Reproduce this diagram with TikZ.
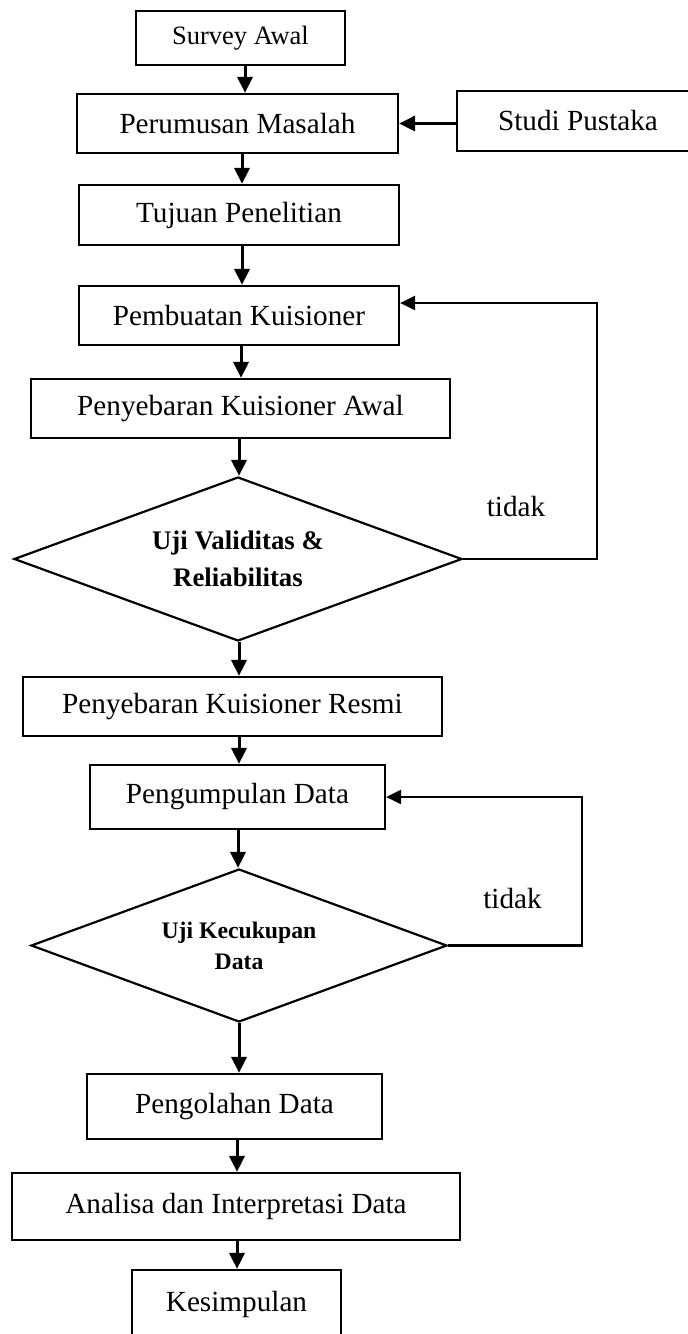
\documentclass[tikz,border=0pt]{standalone}
\usepackage{fontspec}
\setmainfont{Liberation Serif}
\usetikzlibrary{arrows.meta,shapes.geometric}
\begin{document}
\begin{tikzpicture}[x=1pt,y=-1pt,
  box/.style={draw, line width=2.2pt, inner sep=0pt, font=\fontsize{29.2}{35}\selectfont},
  dec/.style={draw, diamond, line width=2.2pt, inner sep=0pt, align=center},
  arr/.style={line width=3pt, -{Triangle[length=16pt,width=15pt]}},
  back/.style={line width=2.3pt, -{Triangle[length=15pt,width=14pt]}},
  lbl/.style={font=\fontsize{29.2}{35}\selectfont, inner sep=0pt}]
\clip (0,0) rectangle (688,1334);
\node[box, minimum width=209pt, minimum height=54pt, font=\fontsize{26.5}{32}\selectfont] (survey) at (240.5,38) {Survey Awal};
\node[box, minimum width=321pt, minimum height=59pt] (perumusan) at (237.5,123.5) {Perumusan Masalah};
\node[box, minimum width=242pt, minimum height=60pt] (studi) at (578,121) {Studi Pustaka};
\node[box, minimum width=320pt, minimum height=60pt] (tujuan) at (239,215) {Tujuan Penelitian};
\node[box, minimum width=320pt, minimum height=59pt] (pembuatan) at (239,315.5) {Pembuatan Kuisioner};
\node[box, minimum width=419pt, minimum height=59pt] (awal) at (240.5,408.5) {Penyebaran Kuisioner Awal};
\node[dec, minimum width=448pt, minimum height=164pt, aspect=2.73, font=\fontsize{26.8}{37}\selectfont\bfseries] (d1) at (238,559) {Uji Validitas \&\\Reliabilitas};
\node[box, minimum width=419pt, minimum height=59pt] (resmi) at (232.5,706.5) {Penyebaran Kuisioner Resmi};
\node[box, minimum width=295pt, minimum height=64pt] (kumpul) at (237.5,797) {Pengumpulan Data};
\node[dec, minimum width=416pt, minimum height=153pt, aspect=2.72, font=\fontsize{23.7}{31}\selectfont\bfseries] (d2) at (239,945.5) {Uji Kecukupan\\Data};
\node[box, minimum width=295pt, minimum height=65pt] (olah) at (234.5,1106.5) {Pengolahan Data};
\node[box, minimum width=448pt, minimum height=67pt] (analisa) at (236,1206.5) {Analisa dan Interpretasi Data};
\node[box, minimum width=209pt, minimum height=70pt] (simpul) at (236.5,1305) {\raisebox{7pt}{Kesimpulan}};
\node[lbl] (t1) at (516,507) {tidak};
\node[lbl] (t2) at (512.5,898) {tidak};
\draw[arr] ([xshift=4.5pt]survey.south) -- ([xshift=4.5pt]survey.south |- perumusan.north);
\draw[arr] ([xshift=4.5pt]perumusan.south) -- ([xshift=4.5pt]perumusan.south |- tujuan.north);
\draw[arr] ([xshift=3pt]tujuan.south) -- ([xshift=3pt]tujuan.south |- pembuatan.north);
\draw[arr] ([xshift=2pt]pembuatan.south) -- ([xshift=2pt]pembuatan.south |- awal.north);
\draw[arr] ([xshift=-1.5pt]awal.south) -- ([xshift=-1.5pt]awal.south |- d1.north);
\draw[arr] ([xshift=1pt]d1.south) -- ([xshift=1pt]d1.south |- resmi.north);
\draw[arr] ([xshift=6.5pt]resmi.south) -- ([xshift=6.5pt]resmi.south |- kumpul.north);
\draw[arr] ([xshift=0.5pt]kumpul.south) -- ([xshift=0.5pt]kumpul.south |- d2.north);
\draw[arr] (d2.south) -- (d2.south |- olah.north);
\draw[arr] ([xshift=2.5pt]olah.south) -- ([xshift=2.5pt]olah.south |- analisa.north);
\draw[arr] ([xshift=1pt]analisa.south) -- ([xshift=1pt]analisa.south |- simpul.north);
\draw[arr] (studi.west |- perumusan.east) -- (perumusan.east);
\coordinate (r1) at (597,303);
\draw[back] (d1.east) -| (r1) -- (r1 -| pembuatan.east);
\coordinate (r2) at (582,797);
\draw[back] (d2.east) -| (r2) -- (r2 -| kumpul.east);
\end{tikzpicture}
\end{document}
